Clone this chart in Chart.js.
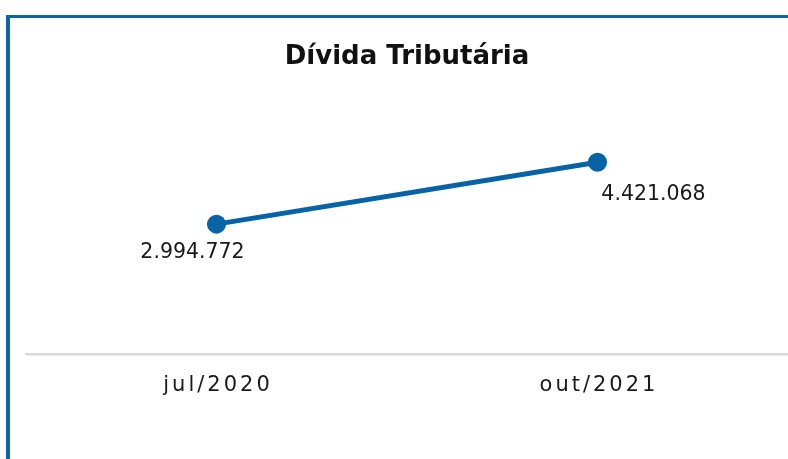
<!DOCTYPE html>
<html>
<head>
<meta charset="utf-8">
<script src="https://cdn.jsdelivr.net/npm/chart.js@4"></script>
<style>
  html, body { margin: 0; padding: 0; background: #fff; overflow: hidden; }
  #moldura {
    position: absolute; left: 6px; top: 15px; width: 900px; height: 600px;
    border-left: 4px solid #0b66a6; border-top: 3px solid #0b66a6;
  }
  #wrap { position: absolute; left: 0; top: 0; width: 788px; height: 459px; }
</style>
</head>
<body>
<div id="moldura"></div>
<div id="wrap"><canvas id="grafico"></canvas></div>
<script>
// dados do gráfico
const periodos = ['jul/2020', 'out/2021'];
const dividaTributaria = [2994772, 4421068];
const tituloGrafico = 'Dívida Tributária';

const corLinha = '#0763a5';
const fonte = "'DejaVu Sans', sans-serif";

function formatarBR(n) {
  return String(n).replace(/\B(?=(\d{3})+(?!\d))/g, '.');
}

// rótulos do eixo x (com espaçamento entre letras) e rótulos dos valores
const rotulosPlugin = {
  id: 'rotulos',
  afterDraw(chart, args, opts) {
    const ctx = chart.ctx;
    const xScale = chart.scales.x;
    ctx.save();
    ctx.fillStyle = '#1a1a1a';
    ctx.textAlign = 'center';
    ctx.textBaseline = 'middle';

    // eixo x
    ctx.font = '21px ' + fonte;
    ctx.letterSpacing = '3px';
    periodos.forEach((p, i) => {
      ctx.fillText(p, xScale.getPixelForValue(i) + 1.5, chart.chartArea.bottom + 32);
    });

    // valores
    ctx.letterSpacing = '0px';
    ctx.font = '20.5px ' + fonte;
    const meta = chart.getDatasetMeta(0);
    meta.data.forEach((pt, i) => {
      const off = opts.deslocamentos[i];
      ctx.fillText(formatarBR(dividaTributaria[i]), pt.x + off[0], pt.y + off[1]);
    });
    ctx.restore();
  }
};

const ctx = document.getElementById('grafico').getContext('2d');
new Chart(ctx, {
  type: 'line',
  data: {
    labels: periodos,
    datasets: [{
      data: dividaTributaria,
      borderColor: corLinha,
      backgroundColor: corLinha,
      borderWidth: 5,
      pointRadius: 9.5,
      pointHoverRadius: 9.5,
      pointBorderWidth: 0,
      tension: 0
    }]
  },
  options: {
    responsive: true,
    maintainAspectRatio: false,
    animation: false,
    layout: { autoPadding: false, padding: { left: 26, right: 0, top: 0, bottom: 105 } },
    plugins: {
      legend: { display: false },
      tooltip: { enabled: false },
      title: {
        display: true,
        text: tituloGrafico,
        color: '#111',
        font: { family: fonte, size: 26, weight: 'bold', lineHeight: 1.2 },
        padding: { top: 42, bottom: 64 }
      },
      rotulos: {
        deslocamentos: [[-24, 29], [56, 32]]
      }
    },
    scales: {
      x: {
        offset: true,
        grid: { display: false, drawTicks: false },
        border: { display: true, color: '#d9d9d9', width: 2.5 },
        ticks: { display: false }
      },
      y: {
        display: false,
        min: 0,
        max: 5000000
      }
    }
  },
  plugins: [rotulosPlugin]
});
</script>
</body>
</html>
